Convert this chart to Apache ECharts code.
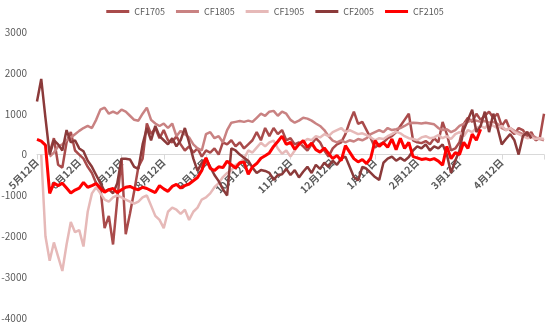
<!DOCTYPE html>
<html>
<head>
<meta charset="utf-8">
<script src="https://cdn.jsdelivr.net/npm/echarts@6/dist/echarts.min.js"></script>
<style>
  html, body { margin: 0; padding: 0; background: #fff; }
  #chart { width: 550px; height: 330px; }
</style>
</head>
<body>
<div id="chart"></div>
<script>
// 月份刻度标签（每 10 个点一个）
const monthLabels = ['5月12日', '6月12日', '7月12日', '8月12日', '9月12日', '10月12日',
  '11月12日', '12月12日', '1月12日', '2月12日', '3月12日', '4月12日']

const seriesNames = ['CF1705', 'CF1805', 'CF1905', 'CF2005', 'CF2105']

const cf1705 = [null, null, null, 50, 400, -250, -320, 300, 550, 100,
  0, -100, -300, -450, -700, -800, -1800, -1500, -2200, -1100,
  -100, -1950, -1450, -900, -300, -100, 760, 500, 650, 400,
  600, 350, 300, 450, 250, 100, 200, 50, 150, -50,
  100, 50, 150, 0, 300, 250, 350, 200, 300, 150,
  250, 350, 550, 350, 650, 450, 650, 500, 600, 350,
  400, 250, 300, 200, 100, 250, 400, 300, 100, -50,
  150, 250, 300, 500, 800, 1050, 750, 800, 600, 400,
  170, 250, 300, 400, 450, 550, 700, 850, 1000, 350,
  300, 280, 330, 250, 400, 300, 800, 500, 100, 150,
  300, 750, 900, 800, 1000, 850, 950, 1050, 900, 1000,
  700, 850, 600, 500, 650, 600, 450, 550, 350, 400,
  1000]

const cf1805 = [null, null, null, -50, 50, 200, 250, 350, 420, 500,
  580, 650, 700, 650, 850, 1100, 1150, 1000, 1050, 1000,
  1100, 1050, 950, 850, 830, 1000, 1150, 850, 760, 700,
  760, 650, 760, 450, 580, 500, 420, 250, 150, 100,
  500, 550, 400, 450, 300, 600, 780, 800, 820, 800,
  830, 800, 900, 1000, 950, 1050, 1070, 950, 1050, 1000,
  850, 780, 830, 900, 880, 830, 760, 700, 600, 450,
  340, 300, 350, 300, 350, 320, 380, 350, 400, 500,
  550, 600, 550, 650, 600, 620, 650, 700, 760, 780,
  770, 760, 780, 760, 740, 650, 600, 620, 550, 600,
  700, 750, 800, 850, 830, 800, 820, 780, 800, 750,
  650, 600, 650, 580, 550, 500, 550, 480, 420, 380,
  350]

const cf1905 = [null, 0, -2000, -2600, -2150, -2500, -2850, -2200, -1650, -1900,
  -1850, -2250, -1400, -950, -800, -950, -1100, -1150, -1050, -1000,
  -1050, -1100, -1150, -1200, -1150, -1050, -1000, -1250, -1500, -1600,
  -1800, -1400, -1300, -1350, -1450, -1350, -1600, -1400, -1300, -1100,
  -1050, -950, -800, -700, -550, -450, -380, -250, -200, -100,
  100, 50, 170, 290, 200, 300, 340, 150, 20, 100,
  -50, 100, 250, 300, 380, 350, 450, 420, 500, 450,
  550, 600, 650, 550, 600, 550, 500, 520, 480, 420,
  350, 400, 380, 450, 500, 560, 520, 450, 400, 380,
  350, 420, 450, 400, 420, 480, 400, 450, 380, 500,
  550, 450, 600, 550, 650, 700, 650, 750, 700, 650,
  700, 600, 650, 550, 500, 450, 400, 420, 380, 400,
  380]

const cf2005 = [1300, 1850, 900, 0, 350, 250, 100, 600, 300, 350,
  150, 80, -150, -300, -500, -700, -900, -850, -950, -700,
  -100, -100, -120, -300, -350, 250, 650, 350, 700, 450,
  350, 250, 400, 200, 350, 650, 300, -100, -400, -200,
  -100, -300, -500, -650, -850, -1000, 150, 100, 0, -80,
  -150, -320, -450, -380, -400, -450, -620, -500, -480, -350,
  -500, -380, -560, -420, -300, -450, -250, -350, -200, -300,
  -150, -250, -100, -50, -300, -550, -630, -300, -350, -450,
  -550, -620, -200, -100, -50, -150, -80, -150, -60, 100,
  200, 150, 250, 100, 200, 150, 250, 0, -450, -150,
  100, 600, 850, 1100, 550, 700, 1050, 550, 1000, 650,
  250, 380, 500, 350, 0, 450, 550, 400, null, null,
  null]

const cf2105 = [370, 330, 230, -950, -700, -760, -700, -820, -940, -870,
  -820, -680, -800, -760, -710, -830, -920, -860, -830, -930,
  -860, -800, -780, -830, -860, -800, -830, -880, -930, -760,
  -840, -900, -780, -730, -820, -760, -720, -640, -560, -390,
  -80, -340, -390, -300, -320, -160, -250, -330, -200, -180,
  -480, -300, -220, -90, -30, 40, 200, 320, 450, 250,
  300, 130, 250, 340, 180, 280, 120, 60, 160, 30,
  -100, -20, -150, 220, 60, -100, -180, -120, -220, -80,
  340, 200, 290, 180, 380, 120, 400, 150, 300, -50,
  -80, -120, -100, -130, -100, -160, -260, 200, -100, 50,
  0, 300, 150, 500, 350, 620, null, null, null, null,
  null, null, null, null, null, null, null, null, null, null,
  null]

const seriesData = [cf1705, cf1805, cf1905, cf2005, cf2105]
const colors = ['#a94b4b', '#c98282', '#e6b9b8', '#8b3a3a', '#ff0000']

// 横轴：每个点一个类目，标签只在每月12日处显示
const categories = cf2105.map((v, i) => String(i))

const yMin = -4000
const yMax = 3000
const gridTop = 32
const gridBottom = 12
const chartHeight = 330
// 横轴放在 0 值处（标签也跟着上移）
const zeroOffset = -(chartHeight - gridTop - gridBottom) * (0 - yMin) / (yMax - yMin)

const chart = echarts.init(document.getElementById('chart'))

const option = {
  animation: false,
  color: colors,
  textStyle: { fontFamily: '"Noto Sans CJK SC", "Noto Sans", sans-serif' },
  legend: {
    top: 2,
    left: 'center',
    icon: 'rect',
    itemWidth: 23,
    itemHeight: 3,
    itemGap: 11,
    textStyle: { color: '#595959', fontSize: 9 },
    data: seriesNames
  },
  grid: {
    left: 37,
    right: 6,
    top: gridTop,
    bottom: gridBottom,
    outerBoundsMode: 'none',
    containLabel: false
  },
  xAxis: {
    type: 'category',
    boundaryGap: false,
    data: categories,
    position: 'bottom',
    offset: zeroOffset,
    axisLine: { onZero: false, lineStyle: { color: '#d9d9d9', width: 1 } },
    axisTick: { show: true, length: 5, interval: 9, lineStyle: { color: '#d9d9d9' } },
    axisLabel: {
      interval: 9,
      rotate: 45,
      margin: 6,
      color: '#595959',
      fontSize: 10,
      fontWeight: 'bold',
      hideOverlap: false,
      formatter: (v, idx) => monthLabels[idx / 10] || ''
    },
    splitLine: { show: false }
  },
  yAxis: {
    type: 'value',
    min: yMin,
    max: yMax,
    interval: 1000,
    axisLine: { show: false },
    axisTick: { show: false },
    axisLabel: { color: '#595959', fontSize: 10, margin: 10, formatter: v => String(v) },
    splitLine: { show: false }
  },
  series: seriesNames.map((name, k) => ({
    name: name,
    type: 'line',
    data: seriesData[k],
    symbol: 'none',
    connectNulls: false,
    lineStyle: { width: k === 4 ? 3 : 2.5, color: colors[k] },
    itemStyle: { color: colors[k] }
  }))
}

chart.setOption(option)
</script>
</body>
</html>
